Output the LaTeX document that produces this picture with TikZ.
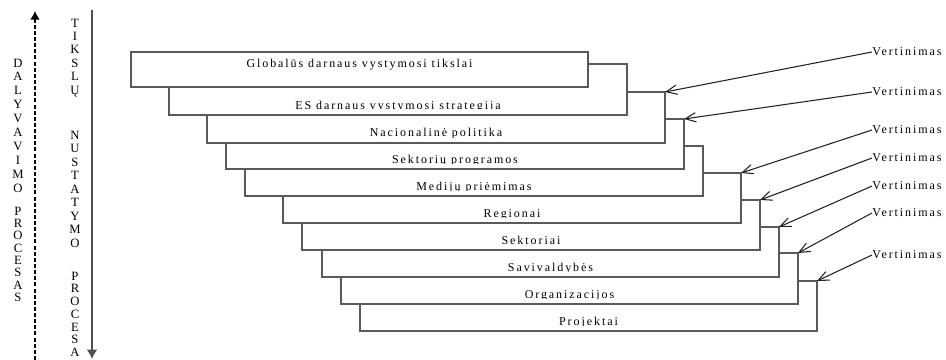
\documentclass[tikz,border=0pt]{standalone}
\usepackage{fontspec}
\setmainfont{Liberation Serif}
\newfontfamily\diagfont[LetterSpace=16]{Liberation Serif}
\usetikzlibrary{arrows.meta}
\definecolor{boxline}{RGB}{90,90,90}
\definecolor{arrowline}{RGB}{35,35,35}
\definecolor{axisgray}{RGB}{80,80,80}

\begin{document}
\begin{tikzpicture}[x=0.75pt, y=-0.75pt,
  stage/.style={draw=boxline, line width=0.8pt, fill=white, inner sep=0pt, outer sep=0pt},
  stagetext/.style={font=\diagfont\fontsize{9}{10}\selectfont, anchor=base, inner sep=0pt},
  evalnote/.style={font=\diagfont\fontsize{9}{10}\selectfont, anchor=west, inner sep=0pt},
  vletter/.style={font=\diagfont\fontsize{9.5}{10}\selectfont, anchor=base, inner sep=0pt},
  evalarrow/.style={draw=arrowline, line width=0.8pt, -{Straight Barb[length=8pt,width=7pt]}}]

  \useasboundingbox (0,0) rectangle (946,360);

  % Stages, from the last one up, so that each upper box lies on top
  \foreach \n/\l/\t/\r/\b/\c/\k/\txt in {
      10/360/281/817/331/325/325/Projektai,
      9/341/253/798/304/298/298/Organizacijos,
      8/322/227/779/277/271/271/Savivaldybės,
      7/302/200/760/250/244/244/Sektoriai,
      6/283/173/741/223/217/217/Regionai,
      5/245/146/703/196/190/190/Medijų priėmimas,
      4/226/119/684/169/163/163/Sektorių programos,
      3/207/92/665/143/137/137/Nacionalinė politika,
      2/169/64/627/115/109/109/ES darnaus vystymosi strategija,
      1/131/52/588/87/68/87/Globalūs darnaus vystymosi tikslai} {
    \node[stage, minimum width={(\r-\l)*0.75pt}, minimum height={(\b-\t)*0.75pt}]
      (s\n) at ({(\l+\r)/2},{(\t+\b)/2}) {};
    \begin{scope}
      \clip (\l,\t) rectangle (\r,\k);
      \node[stagetext] (t\n) at ({(\l+\r)/2},\c) {\txt};
    \end{scope}
  }

  % Evaluation notes on the right
  \foreach \m/\y/\s in {1/52/3, 2/92/4, 3/130/6, 4/158/7, 5/186/8, 6/213/9, 7/255/10} {
    \node[evalnote] (v\m) at (872,\y) {Vertinimas};
    \draw[evalarrow] (v\m.west) -- (s\s.north east);
  }

  % Participation process (upwards, dashed)
  \coordinate (dal-start) at (35,360);
  \coordinate (dal-end) at (35,11);
  \draw[black, line width=1.4pt, dash pattern=on 3pt off 1.6pt,
    -{Latex[length=6.5pt,width=7.5pt]}] (dal-start) -- (dal-end);
  \foreach \ch [count=\i] in {D,A,L,Y,V,A,V,I,M,O}
    \node[vletter] (dal\i) at (18,{53.2+13.9*\i}) {\ch};
  \foreach \ch [count=\i] in {P,R,O,C,E,S,A,S}
    \node[vletter] (pro\i) at (18,{202.9+12.3*\i}) {\ch};

  % Goal setting process (downwards)
  \coordinate (tik-start) at (92,10);
  \coordinate (tik-end) at (92,359);
  \draw[axisgray, line width=1.1pt, -{Latex[length=7pt,width=8pt]}] (tik-start) -- (tik-end);
  \foreach \ch [count=\i] in {T,I,K,S,L,Ų}
    \node[vletter] (tik\i) at (75,{13.8+13.4*\i}) {\ch};
  \foreach \ch [count=\i] in {N,U,S,T,A,T,Y,M,O}
    \node[vletter] (nus\i) at (75,{125.7+13.5*\i}) {\ch};
  \foreach \ch [count=\i] in {P,R,O,C,E,S,A}
    \node[vletter] (prc\i) at (75,{267.5+12.7*\i}) {\ch};

\end{tikzpicture}
\end{document}
